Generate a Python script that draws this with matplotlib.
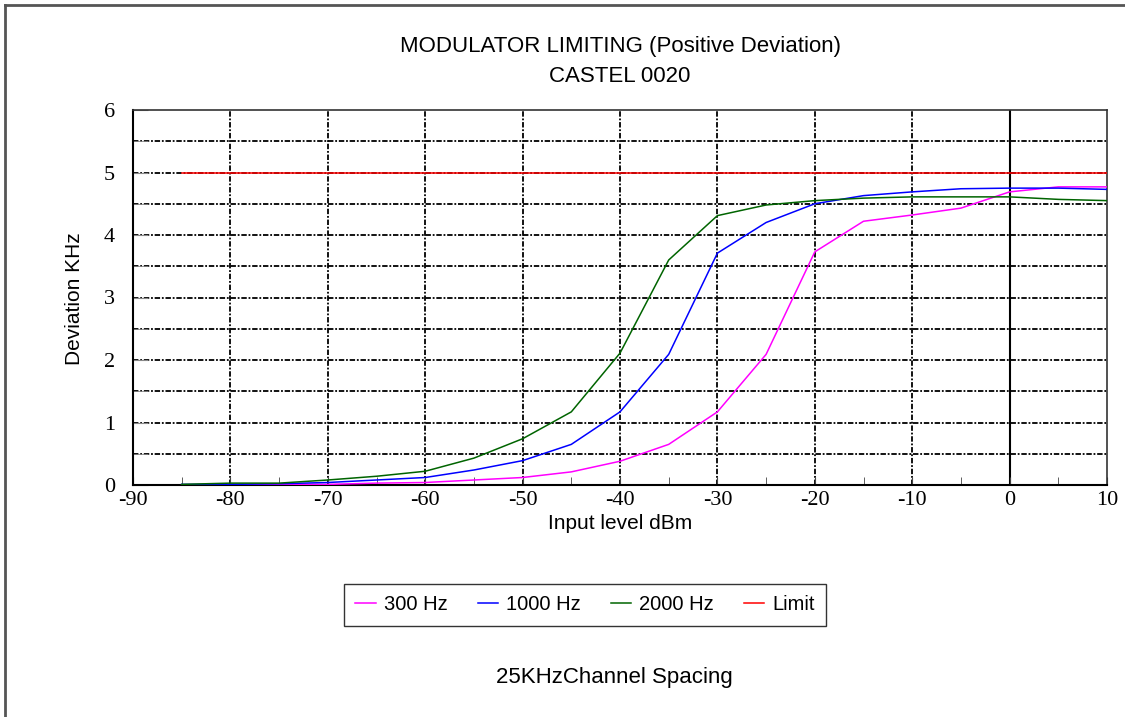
import numpy as np
import matplotlib.pyplot as plt
from matplotlib.lines import Line2D

# Input level (dBm) and deviation readings (KHz)
level = [-85, -80, -75, -70, -65, -60, -55, -50, -45, -40, -35, -30, -25, -20, -15, -10, -5, 0, 5, 10]
dev_300 = [0.00, 0.00, 0.01, 0.01, 0.03, 0.04, 0.08, 0.12, 0.21, 0.38, 0.65, 1.17, 2.09, 3.73, 4.22, 4.32, 4.43, 4.69, 4.77, 4.77]
dev_1000 = [0.01, 0.01, 0.02, 0.04, 0.08, 0.12, 0.24, 0.39, 0.65, 1.17, 2.09, 3.71, 4.20, 4.50, 4.63, 4.69, 4.74, 4.75, 4.75, 4.73]
dev_2000 = [0.01, 0.03, 0.03, 0.08, 0.14, 0.22, 0.43, 0.74, 1.17, 2.11, 3.60, 4.31, 4.48, 4.55, 4.59, 4.61, 4.61, 4.61, 4.57, 4.55]
limit = [5.0] * len(level)

series = [('300 Hz', dev_300, '#ff00ff'),
          ('1000 Hz', dev_1000, '#0000ff'),
          ('2000 Hz', dev_2000, '#006400'),
          ('Limit', limit, '#ff0000')]

plt.rcParams['font.family'] = ['Liberation Sans', 'DejaVu Sans']
plt.rcParams['axes.unicode_minus'] = False

W, H = 1125, 717
fig = plt.figure(figsize=(W / 100, H / 100), dpi=100)
ax = fig.add_axes([133 / W, 1 - 485 / H, 974 / W, 375 / H])

grid_style = dict(color='black', lw=1.3, ls=(0, (3, 1, 1, 1)), zorder=1)
for yv in np.arange(0.5, 6.0, 0.5):
    ax.axhline(yv, **grid_style)
for xv in range(-80, 0, 10):
    ax.axvline(xv, **grid_style)
ax.axvline(0, color='black', lw=1.5, zorder=1)

for name, vals, col in series:
    ax.plot(level, vals, color=col, lw=1.1, label=name, zorder=3)

ax.set_xlim(-90, 10)
ax.set_ylim(0, 6)
ax.set_xticks(range(-90, 11, 10))
ax.set_xticks(range(-85, 10, 5), minor=True)
ax.set_yticks(range(0, 7))
ax.set_yticks(np.arange(0.5, 6, 0.5), minor=True)
ax.tick_params(axis='both', which='major', labelsize=16, labelfontfamily='Liberation Serif')
ax.tick_params(axis='x', which='both', direction='in', length=6, color='#444444', pad=4)
ax.tick_params(axis='y', which='both', direction='in', length=11, color='#888888', pad=13)
for sp in ['left', 'bottom']:
    ax.spines[sp].set_linewidth(1.5)
for sp in ['top', 'right']:
    ax.spines[sp].set_color('#333333')
    ax.spines[sp].set_linewidth(1.2)

# axis titles
fig.text(620 / W, 1 - 529 / H, 'Input level dBm', ha='center', va='baseline', fontsize=15)
fig.text(75 / W, 1 - 299 / H, 'Deviation KHz', ha='center', va='center', rotation=90, fontsize=15)

fig.text(620 / W, 1 - 52 / H, 'MODULATOR LIMITING (Positive Deviation)', ha='center', va='baseline', fontsize=16)
fig.text(620 / W, 1 - 82 / H, 'CASTEL 0020', ha='center', va='baseline', fontsize=16)
fig.text(614 / W, 1 - 683 / H, '25KHzChannel Spacing', ha='center', va='baseline', fontsize=16)

handles = [Line2D([0], [0], color=c, lw=1.1) for _, _, c in series]
fig.legend(handles, [s[0] for s in series], loc='center', bbox_to_anchor=(585 / W, 1 - 605 / H),
           ncol=4, fontsize=14.5, frameon=True, fancybox=False, edgecolor='black',
           handlelength=1.0, handletextpad=0.4, columnspacing=1.5, borderpad=0.55, borderaxespad=0)

# outer chart border (left and top only)
fig.add_artist(Line2D([5 / W, 5 / W], [0, 1 - 5 / H], color='#555555', lw=2, transform=fig.transFigure))
fig.add_artist(Line2D([5 / W, 1], [1 - 5 / H, 1 - 5 / H], color='#555555', lw=2, transform=fig.transFigure))

fig.savefig('out.png', dpi=100)
